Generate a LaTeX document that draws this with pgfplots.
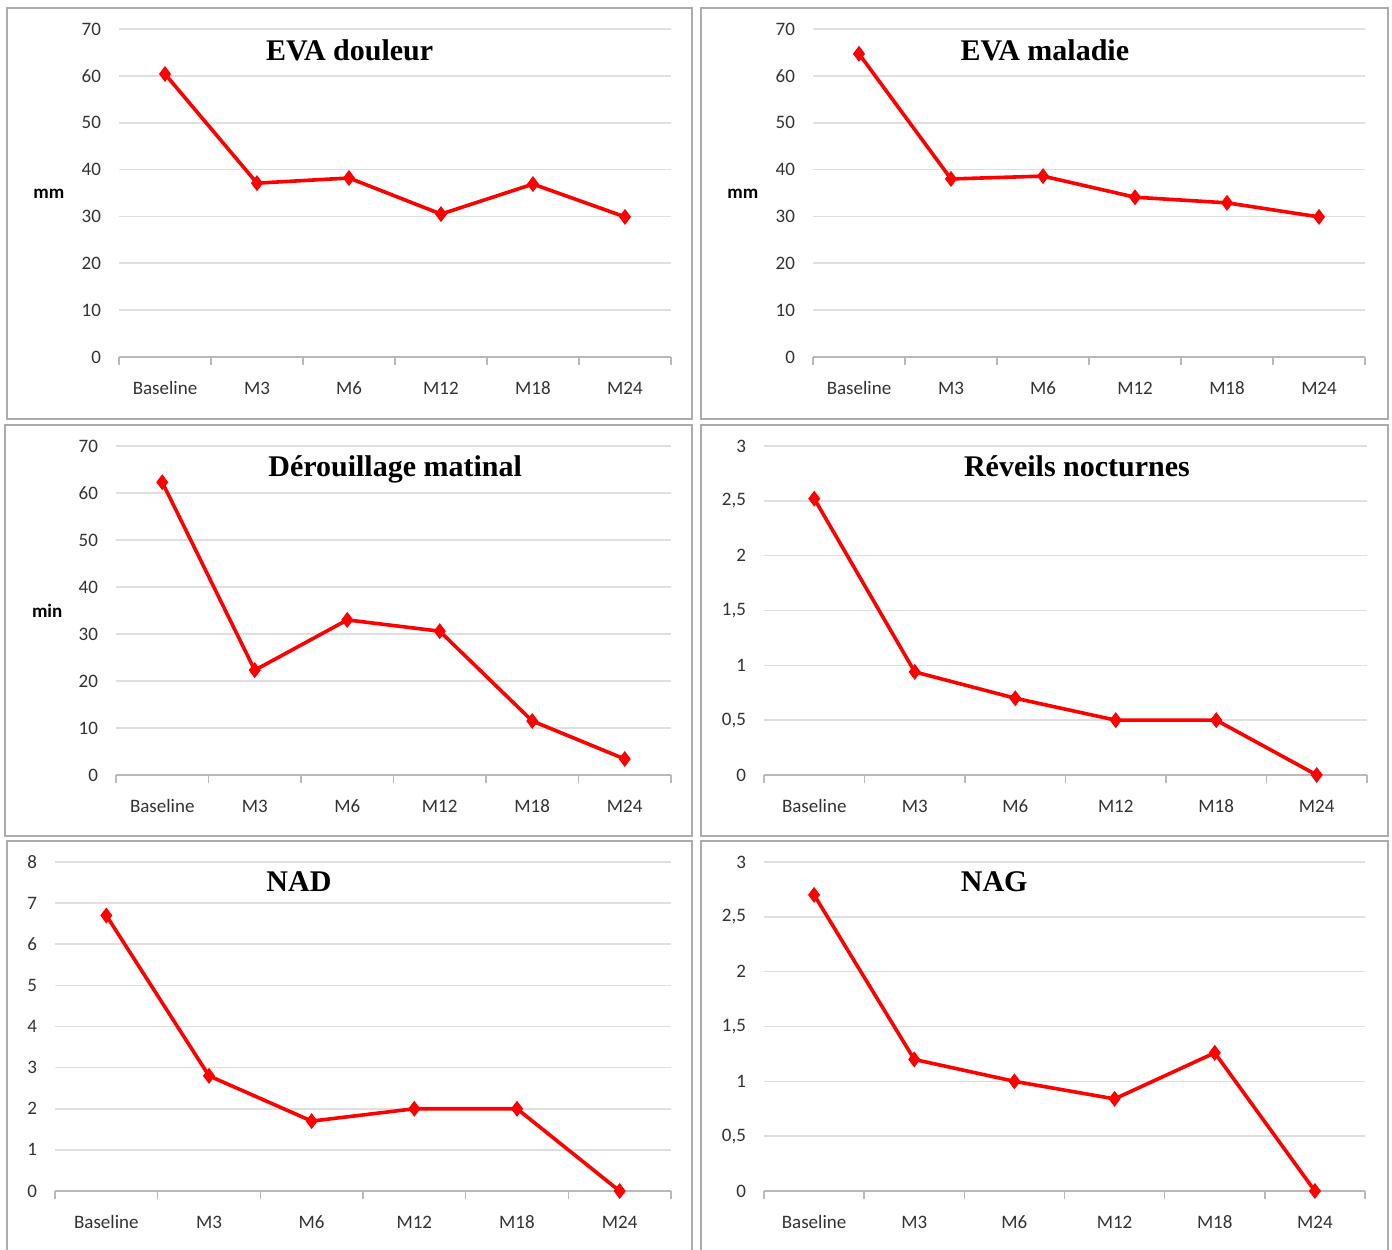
\documentclass[border=0pt]{standalone}
\usepackage{fontspec}
\setmainfont{Carlito}
\newfontfamily\titlefont{Liberation Serif}
\usepackage{pgfplots}
\pgfplotsset{compat=1.18}
\pgfplotsset{
  panel/.style={
    scale only axis,
    xmin=-0.5, xmax=5.5, ymin=0,
    axis x line*=bottom,
    axis y line*=left,
    y axis line style={draw=none},
    x axis line style={-, draw=gray!55, line width=0.8pt},
    xtick={0,...,5},
    xticklabels={Baseline,M3,M6,M12,M18,M24},
    minor xtick={-0.5,0.5,...,5.5},
    major tick length=0pt,
    minor tick length=4pt,
    tick align=outside,
    major x tick style={draw=none},
    minor x tick style={draw=gray!55, line width=0.8pt},
    ytick style={draw=none},
    ymajorgrids,
    grid style={draw=gray!25, line width=0.8pt},
    tick label style={font=\fontsize{9.5}{11}\selectfont, text=black!80},
    xticklabel style={anchor=center, yshift=-15.5pt},
    yticklabel style={anchor=east, xshift=-5.5pt},
    clip=false,
  },
  ser/.style={red, line width=1.8pt, mark=diamond*, mark size=3.6pt, mark options={fill=red, draw=red, line width=0.5pt}},
}
\newcommand{\ptitle}[1]{{\titlefont\bfseries\fontsize{15}{17}\selectfont #1}}
\begin{document}
\begin{tikzpicture}
\useasboundingbox (0,0) rectangle (696pt,624.5pt);
\fill[white] (0,0) rectangle (696pt,624.5pt);
% frames
\begin{scope}[draw=gray!65, line width=1.2pt]
\draw (3.5pt,415pt) rectangle (346pt,620.5pt);
\draw (350.5pt,415pt) rectangle (694pt,620.5pt);
\draw (2.5pt,206.5pt) rectangle (346pt,412pt);
\draw (350.5pt,206.5pt) rectangle (694pt,412pt);
\draw (3.5pt,-3pt) rectangle (346pt,204pt);
\draw (350.5pt,-3pt) rectangle (694pt,204pt);
\end{scope}

% Panel 1: EVA douleur
\begin{axis}[panel, at={(59.5pt,446pt)}, anchor=south west, width=276pt, height=164pt,
  ymax=70, ytick={0,10,...,70}, yticklabels={0,10,20,30,40,50,60,70}]
\addplot[ser] coordinates {(0,60.4) (1,37.1) (2,38.2) (3,30.5) (4,36.9) (5,29.9)};
\node[anchor=base] at (axis description cs:0.418,0.905) {\ptitle{EVA douleur}};
\node[font=\fontsize{9.5}{11}\selectfont\bfseries] at (axis description cs:-0.127,0.497) {mm};
\end{axis}

% Panel 2: EVA maladie
\begin{axis}[panel, at={(406.5pt,446pt)}, anchor=south west, width=276pt, height=164pt,
  ymax=70, ytick={0,10,...,70}, yticklabels={0,10,20,30,40,50,60,70}]
\addplot[ser] coordinates {(0,64.7) (1,38.0) (2,38.6) (3,34.1) (4,32.9) (5,29.9)};
\node[anchor=base] at (axis description cs:0.420,0.905) {\ptitle{EVA maladie}};
\node[font=\fontsize{9.5}{11}\selectfont\bfseries] at (axis description cs:-0.127,0.497) {mm};
\end{axis}

% Panel 3: Derouillage matinal
\begin{axis}[panel, at={(58pt,237pt)}, anchor=south west, width=277.5pt, height=164.5pt,
  ymax=70, ytick={0,10,...,70}, yticklabels={0,10,20,30,40,50,60,70}]
\addplot[ser] coordinates {(0,62.3) (1,22.3) (2,33.0) (3,30.6) (4,11.5) (5,3.4)};
\node[anchor=base] at (axis description cs:0.503,0.906) {\ptitle{Dérouillage matinal}};
\node[font=\fontsize{9.5}{11}\selectfont\bfseries] at (axis description cs:-0.124,0.498) {min};
\end{axis}

% Panel 4: Reveils nocturnes
\begin{axis}[panel, at={(382pt,237pt)}, anchor=south west, width=301.5pt, height=164.5pt,
  ymax=3, ytick={0,0.5,...,3}, yticklabels={0,{0,5},1,{1,5},2,{2,5},3}]
\addplot[ser] coordinates {(0,2.52) (1,0.94) (2,0.70) (3,0.50) (4,0.50) (5,0)};
\node[anchor=base] at (axis description cs:0.519,0.906) {\ptitle{Réveils nocturnes}};
\end{axis}

% Panel 5: NAD
\begin{axis}[panel, at={(27.5pt,29pt)}, anchor=south west, width=308pt, height=164.5pt,
  ymax=8, ytick={0,1,...,8}, yticklabels={0,1,2,3,4,5,6,7,8}]
\addplot[ser] coordinates {(0,6.7) (1,2.8) (2,1.7) (3,2.0) (4,2.0) (5,0)};
\node[anchor=base] at (axis description cs:0.396,0.909) {\ptitle{NAD}};
\end{axis}

% Panel 6: NAG
\begin{axis}[panel, at={(382pt,29pt)}, anchor=south west, width=300.5pt, height=164.5pt,
  ymax=3, ytick={0,0.5,...,3}, yticklabels={0,{0,5},1,{1,5},2,{2,5},3}]
\addplot[ser] coordinates {(0,2.70) (1,1.20) (2,1.00) (3,0.84) (4,1.26) (5,0)};
\node[anchor=base] at (axis description cs:0.383,0.909) {\ptitle{NAG}};
\end{axis}
\end{tikzpicture}
\end{document}
